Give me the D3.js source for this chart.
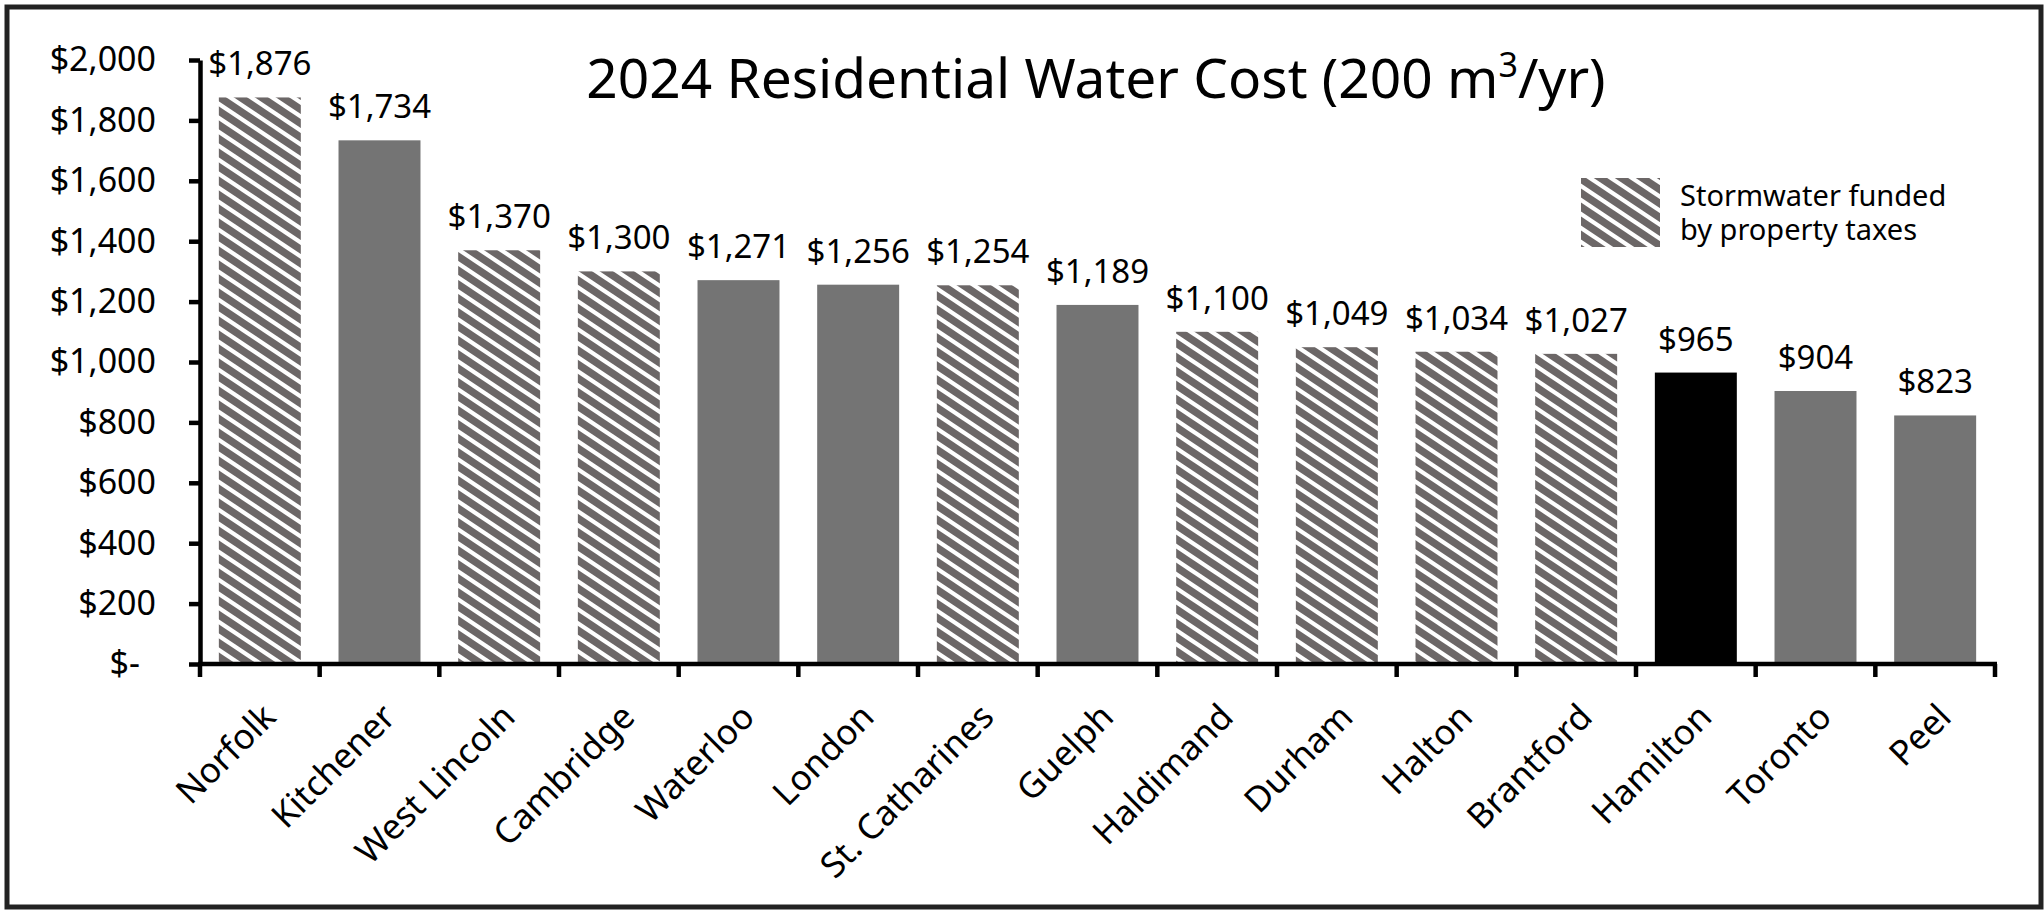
<!DOCTYPE html>
<html>
<head>
<meta charset="utf-8">
<script src="https://cdn.jsdelivr.net/npm/d3@7"></script>
<style>
  html, body { margin: 0; padding: 0; background: #fff; }
  svg { display: block; }
  text { font-family: "Noto Sans", "Open Sans", sans-serif; fill: #000; }
</style>
</head>
<body>
<svg id="chart" width="2044" height="914"></svg>
<script>
const categories = ["Norfolk", "Kitchener", "West Lincoln", "Cambridge", "Waterloo", "London", "St. Catharines", "Guelph", "Haldimand", "Durham", "Halton", "Brantford", "Hamilton", "Toronto", "Peel"];
const values = [1876, 1734, 1370, 1300, 1271, 1256, 1254, 1189, 1100, 1049, 1034, 1027, 965, 904, 823];
const fundingType = ["tax", "fee", "tax", "tax", "fee", "fee", "tax", "fee", "tax", "tax", "tax", "tax", "hamilton", "fee", "fee"];
const yTicks = [0, 200, 400, 600, 800, 1000, 1200, 1400, 1600, 1800, 2000];
const titleMain = "2024 Residential Water Cost (200 m";
const titleSup = "3";
const titleEnd = "/yr)";
const legendLines = ["Stormwater funded", "by property taxes"];

const svg = d3.select("#chart");
const plot = { left: 200, right: 1995, top: 60, bottom: 664 };

// hatch pattern: white diagonal stripes ("\") on warm grey
const defs = svg.append("defs");
const pw = 21, ph = 14;
const pat = defs.append("pattern")
  .attr("id", "hatch")
  .attr("patternUnits", "userSpaceOnUse")
  .attr("width", pw).attr("height", ph);
pat.append("rect").attr("width", pw).attr("height", ph).attr("fill", "#6c6767");
[-ph, 0, ph].forEach(off => {
  pat.append("line")
    .attr("x1", -pw).attr("y1", -ph + off)
    .attr("x2", 2 * pw).attr("y2", 2 * ph + off)
    .attr("stroke", "#ffffff").attr("stroke-width", 4.2);
});

const fillFor = t => t === "tax" ? "url(#hatch)" : (t === "hamilton" ? "#000000" : "#747474");

// frame
svg.append("rect")
  .attr("x", 7).attr("y", 7).attr("width", 2034).attr("height", 900)
  .attr("fill", "none").attr("stroke", "#222").attr("stroke-width", 5);

const x = d3.scaleBand().domain(categories)
  .range([plot.left, plot.right])
  .paddingInner(0.315).paddingOuter(0.1575);
const y = d3.scaleLinear().domain([0, 2000]).range([plot.bottom, plot.top]);

// bars
svg.append("g").selectAll("rect")
  .data(categories)
  .join("rect")
  .attr("x", d => x(d))
  .attr("y", (d, i) => y(values[i]))
  .attr("width", x.bandwidth())
  .attr("height", (d, i) => y(0) - y(values[i]))
  .attr("fill", (d, i) => fillFor(fundingType[i]));

// value labels
svg.append("g").selectAll("text")
  .data(categories)
  .join("text")
  .attr("x", d => x(d) + x.bandwidth() / 2)
  .attr("y", (d, i) => y(values[i]) - 22)
  .attr("text-anchor", "middle")
  .style("font-size", "33px")
  .text((d, i) => "$" + d3.format(",")(values[i]));

// y axis
const fmt = d => d === 0 ? "$-" : "$" + d3.format(",")(d);
const yAxis = svg.append("g")
  .attr("transform", `translate(${plot.left},0)`)
  .call(d3.axisLeft(y).tickValues(yTicks).tickFormat(fmt).tickSize(11).tickSizeOuter(0).tickPadding(33));
yAxis.select(".domain").attr("stroke", "#000").attr("stroke-width", 4.5);
yAxis.selectAll(".tick line").attr("stroke", "#000").attr("stroke-width", 4.5);
yAxis.selectAll(".tick text")
  .style("font-size", "34px")
  .attr("fill", "#000")
  .attr("dx", d => d === 0 ? -16 : 0);

// x axis: ticks at band boundaries
const step = x.step();
const boundaries = d3.range(categories.length + 1).map(i => plot.left + i * step);
const xg = svg.append("g");
xg.append("line")
  .attr("x1", plot.left - 2).attr("x2", plot.right + 2)
  .attr("y1", plot.bottom).attr("y2", plot.bottom)
  .attr("stroke", "#000").attr("stroke-width", 4.5);
xg.selectAll("line.tick")
  .data(boundaries)
  .join("line")
  .attr("class", "tick")
  .attr("x1", d => d).attr("x2", d => d)
  .attr("y1", plot.bottom).attr("y2", plot.bottom + 13)
  .attr("stroke", "#000").attr("stroke-width", 4.5);

xg.selectAll("text")
  .data(categories)
  .join("text")
  .attr("text-anchor", "end")
  .attr("transform", d => `translate(${x(d) + x.bandwidth() / 2 + 18},${plot.bottom + 55}) rotate(-45)`)
  .style("font-size", "35px")
  .text(d => d);

// title
const title = svg.append("text")
  .attr("x", 1096).attr("y", 98)
  .attr("text-anchor", "middle")
  .style("font-size", "55px");
title.append("tspan").text(titleMain);
title.append("tspan").attr("dy", -21).style("font-size", "34px").text(titleSup);
title.append("tspan").attr("dy", 21).text(titleEnd);

// legend
const lg = svg.append("g");
lg.append("rect")
  .attr("x", 1581).attr("y", 178).attr("width", 79).attr("height", 69)
  .attr("fill", "url(#hatch)");
const lt = lg.append("text")
  .attr("x", 1680).attr("y", 206)
  .style("font-size", "29px");
lt.selectAll("tspan")
  .data(legendLines)
  .join("tspan")
  .attr("x", 1680)
  .attr("dy", (d, i) => i === 0 ? 0 : 34)
  .text(d => d);
</script>
</body>
</html>
